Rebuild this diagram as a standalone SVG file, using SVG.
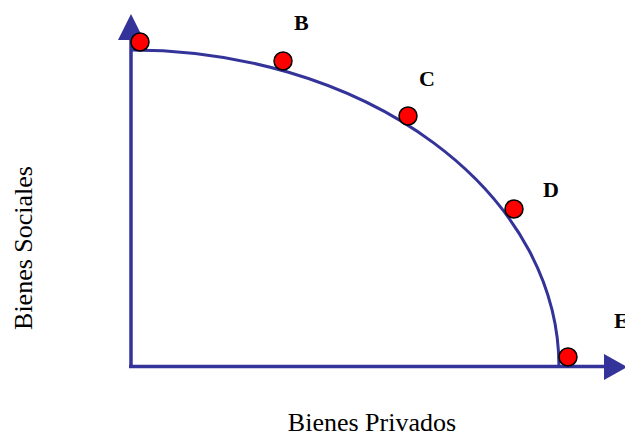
<svg xmlns="http://www.w3.org/2000/svg" width="625" height="435" viewBox="0 0 625 435">
<style>
.ax{stroke:#333399;stroke-width:3.5;fill:none}
.head{fill:#333399}
.curve{stroke:#333399;stroke-width:3;fill:none}
.pt{fill:#ff0000;stroke:#000;stroke-width:1.5}
.lbl{font-family:"Liberation Serif","Times New Roman",serif;font-weight:bold;font-size:22px;fill:#000}
.title{font-family:"Liberation Serif","Times New Roman",serif;font-size:26px;fill:#000}
</style>
<rect width="625" height="435" fill="#fff"/>
<g id="connectors">
<line class="ax" x1="131" y1="38" x2="131" y2="368"/>
<polygon class="head" points="131,14 118,40 144,40"/>
<line class="ax" x1="129" y1="366.5" x2="606" y2="366.5"/>
<polygon class="head" points="627,367 604,354 604,380"/>
<path class="curve" d="M131,50 A428,317 0 0 1 559,367"/>
</g>
<g id="A"><circle class="pt" cx="140" cy="42" r="9"/></g>
<g id="B"><circle class="pt" cx="283" cy="61" r="9"/><text class="lbl" x="294" y="30">B</text></g>
<g id="C"><circle class="pt" cx="408" cy="116" r="9"/><text class="lbl" x="419" y="86">C</text></g>
<g id="D"><circle class="pt" cx="514" cy="209" r="9"/><text class="lbl" x="543" y="197">D</text></g>
<g id="E"><circle class="pt" cx="568" cy="357" r="9"/><text class="lbl" x="614" y="328">E</text></g>
<g id="labels">
<text class="title" x="372" y="431" text-anchor="middle">Bienes Privados</text>
<text class="title" transform="translate(32,248) rotate(-90)" text-anchor="middle">Bienes Sociales</text>
</g>
</svg>
